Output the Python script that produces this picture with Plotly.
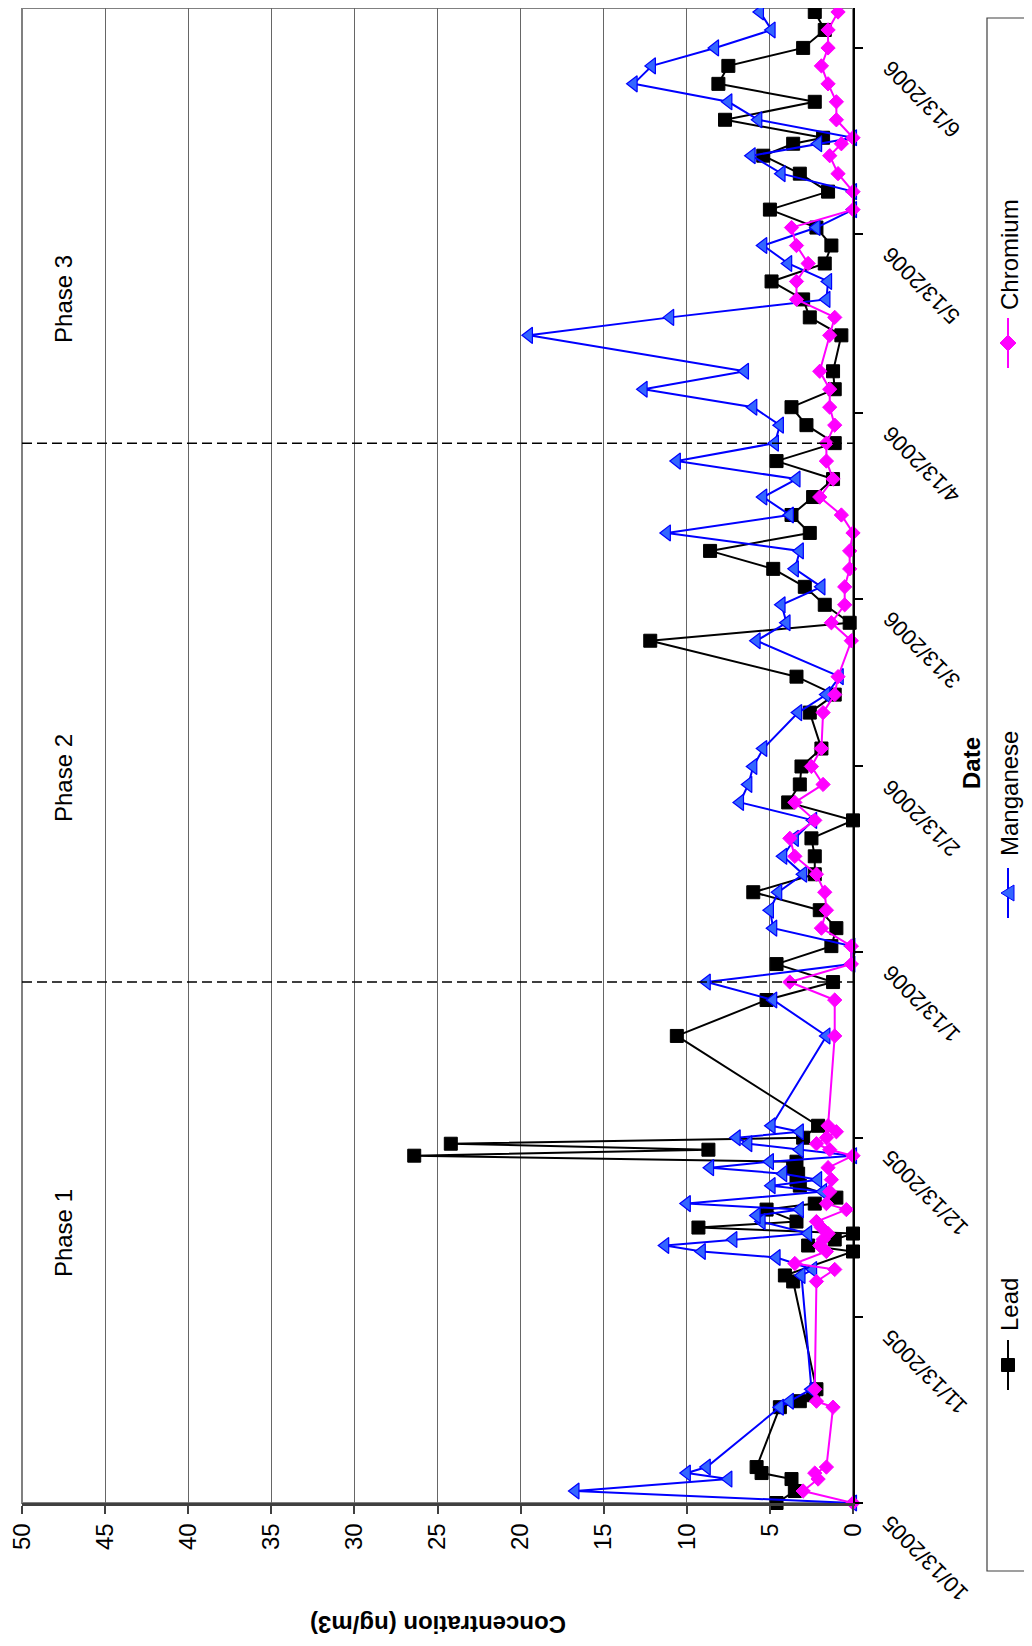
import plotly.graph_objects as go

FONT = "Liberation Sans, Arial, sans-serif"

# ---------------- data ----------------
lead_dates = [
    "2005-10-13", "2005-10-15", "2005-10-17", "2005-10-18", "2005-10-19", "2005-10-29", "2005-10-30",
    "2005-10-31", "2005-11-01", "2005-11-19", "2005-11-20", "2005-11-24", "2005-11-25", "2005-11-26",
    "2005-11-27", "2005-11-28", "2005-11-29", "2005-12-01", "2005-12-02", "2005-12-03", "2005-12-05",
    "2005-12-06", "2005-12-07", "2005-12-08", "2005-12-09", "2005-12-10", "2005-12-11", "2005-12-12",
    "2005-12-13", "2005-12-15", "2005-12-30", "2006-01-05", "2006-01-08", "2006-01-11", "2006-01-14",
    "2006-01-17", "2006-01-20", "2006-01-23", "2006-01-26", "2006-01-29", "2006-02-01", "2006-02-04",
    "2006-02-07", "2006-02-10", "2006-02-13", "2006-02-16", "2006-02-22", "2006-02-25", "2006-02-28",
    "2006-03-06", "2006-03-09", "2006-03-12", "2006-03-15", "2006-03-18", "2006-03-21", "2006-03-24",
    "2006-03-27", "2006-03-30", "2006-04-02", "2006-04-05", "2006-04-08", "2006-04-11", "2006-04-14",
    "2006-04-17", "2006-04-20", "2006-04-26", "2006-04-29", "2006-05-02", "2006-05-05", "2006-05-08",
    "2006-05-11", "2006-05-14", "2006-05-17", "2006-05-20", "2006-05-23", "2006-05-26", "2006-05-28",
    "2006-05-29", "2006-06-01", "2006-06-04", "2006-06-07", "2006-06-10", "2006-06-13", "2006-06-16",
    "2006-06-19",
]
lead_vals = [
    4.6, 3.5, 3.7, 5.5, 5.8, 4.4, 3.2,
    2.4, 2.2, 3.6, 4.1, 0.0, 2.7, 1.1,
    0.0, 9.3, 3.4, 5.2, 2.3, 1.0, 3.2,
    3.4, 3.3, 3.6, 3.4, 26.4, 8.7, 24.2,
    3.0, 2.1, 10.6, 5.2, 1.2, 4.6, 1.3,
    1.0, 2.0, 6.0, 2.3, 2.3, 2.5, 0.0,
    3.9, 3.2, 3.1, 1.9, 2.6, 1.1, 3.4,
    12.2, 0.2, 1.7, 2.9, 4.8, 8.6, 2.6,
    3.7, 2.4, 1.2, 4.6, 1.1, 2.8, 3.7,
    1.1, 1.2, 0.7, 2.6, 3.0, 4.9, 1.7,
    1.3, 2.2, 5.0, 1.5, 3.2, 5.4, 3.6,
    1.8, 7.7, 2.3, 8.1, 7.5, 3.0, 1.7,
    2.3,
]

mn_dates = [
    "2005-10-13", "2005-10-15", "2005-10-17", "2005-10-18", "2005-10-19", "2005-10-29", "2005-10-30",
    "2005-11-01", "2005-11-20", "2005-11-21", "2005-11-23", "2005-11-24", "2005-11-25", "2005-11-26",
    "2005-11-27", "2005-11-29", "2005-11-30", "2005-12-01", "2005-12-02", "2005-12-04", "2005-12-05",
    "2005-12-06", "2005-12-07", "2005-12-08", "2005-12-09", "2005-12-10", "2005-12-11", "2005-12-12",
    "2005-12-13", "2005-12-14", "2005-12-15", "2005-12-30", "2006-01-05", "2006-01-08", "2006-01-11",
    "2006-01-14", "2006-01-17", "2006-01-20", "2006-01-23", "2006-01-26", "2006-01-29", "2006-02-01",
    "2006-02-04", "2006-02-07", "2006-02-10", "2006-02-13", "2006-02-16", "2006-02-22", "2006-02-25",
    "2006-02-28", "2006-03-06", "2006-03-09", "2006-03-12", "2006-03-15", "2006-03-18", "2006-03-21",
    "2006-03-24", "2006-03-27", "2006-03-30", "2006-04-02", "2006-04-05", "2006-04-08", "2006-04-11",
    "2006-04-14", "2006-04-17", "2006-04-20", "2006-04-26", "2006-04-29", "2006-05-02", "2006-05-05",
    "2006-05-08", "2006-05-11", "2006-05-14", "2006-05-17", "2006-05-20", "2006-05-23", "2006-05-26",
    "2006-05-28", "2006-05-29", "2006-06-01", "2006-06-04", "2006-06-07", "2006-06-10", "2006-06-13",
    "2006-06-16", "2006-06-19",
]
mn_vals = [
    0.0, 16.7, 7.5, 10.0, 8.8, 4.4, 3.8,
    2.5, 3.1, 2.4, 4.6, 9.1, 11.3, 7.2,
    2.7, 5.5, 5.8, 3.2, 10.0, 1.8, 4.9,
    2.1, 4.2, 8.6, 5.0, 0.0, 3.2, 6.3,
    7.0, 3.2, 4.9, 1.6, 4.8, 8.8, 0.1,
    0.1, 4.8, 5.0, 4.5, 3.0, 4.2, 3.5,
    2.4, 6.8, 6.3, 6.0, 5.4, 3.3, 1.6,
    0.8, 5.8, 4.0, 4.3, 1.9, 3.5, 3.2,
    11.2, 3.8, 5.4, 3.4, 10.6, 4.7, 4.4,
    6.0, 12.6, 6.5, 19.5, 11.0, 1.6, 1.5,
    3.9, 5.4, 2.2, 0.0, 0.0, 4.3, 6.1,
    2.1, 0.0, 5.7, 7.5, 13.2, 12.1, 8.3,
    4.9, 5.6,
]

cr_dates = [
    "2005-10-13", "2005-10-15", "2005-10-17", "2005-10-18", "2005-10-19", "2005-10-29", "2005-10-30",
    "2005-11-01", "2005-11-19", "2005-11-21", "2005-11-22", "2005-11-24", "2005-11-25", "2005-11-26",
    "2005-11-27", "2005-11-28", "2005-11-29", "2005-12-01", "2005-12-02", "2005-12-04", "2005-12-06",
    "2005-12-08", "2005-12-10", "2005-12-11", "2005-12-12", "2005-12-13", "2005-12-14", "2005-12-15",
    "2005-12-30", "2006-01-05", "2006-01-08", "2006-01-11", "2006-01-14", "2006-01-17", "2006-01-20",
    "2006-01-23", "2006-01-26", "2006-01-29", "2006-02-01", "2006-02-04", "2006-02-07", "2006-02-10",
    "2006-02-13", "2006-02-16", "2006-02-22", "2006-02-25", "2006-02-28", "2006-03-06", "2006-03-09",
    "2006-03-12", "2006-03-15", "2006-03-18", "2006-03-21", "2006-03-24", "2006-03-27", "2006-03-30",
    "2006-04-02", "2006-04-05", "2006-04-08", "2006-04-11", "2006-04-14", "2006-04-17", "2006-04-20",
    "2006-04-26", "2006-04-29", "2006-05-02", "2006-05-05", "2006-05-08", "2006-05-11", "2006-05-14",
    "2006-05-17", "2006-05-20", "2006-05-23", "2006-05-26", "2006-05-28", "2006-05-29", "2006-06-01",
    "2006-06-04", "2006-06-07", "2006-06-10", "2006-06-13", "2006-06-16", "2006-06-19",
]
cr_vals = [
    0.0, 3.0, 2.1, 2.3, 1.6, 1.2, 2.2,
    2.3, 2.2, 1.1, 3.5, 1.6, 2.0, 1.8,
    1.5, 1.9, 2.2, 0.4, 1.6, 1.4, 1.3,
    1.5, 0.0, 1.4, 2.2, 1.6, 1.0, 1.5,
    1.1, 1.1, 3.8, 0.1, 0.1, 1.9, 1.6,
    1.7, 2.2, 3.5, 3.8, 2.3, 3.5, 1.8,
    2.5, 1.9, 1.8, 1.1, 0.9, 0.1, 1.3,
    0.5, 0.5, 0.2, 0.2, 0.0, 0.7, 2.0,
    1.2, 1.6, 1.6, 1.1, 1.4, 1.4, 2.0,
    1.4, 1.1, 3.4, 3.4, 2.7, 3.4, 3.7,
    0.0, 0.0, 0.9, 1.4, 0.7, 0.0, 1.0,
    1.0, 1.5, 1.9, 1.5, 1.5, 0.9,
]

series_names = ["Lead", "Manganese", "Chromium"]

date_ticks = ["2005-10-13", "2005-11-13", "2005-12-13", "2006-01-13", "2006-02-13",
              "2006-03-13", "2006-04-13", "2006-05-13", "2006-06-13"]
date_tick_labels = ["10/13/2005", "11/13/2005", "12/13/2005", "1/13/2006", "2/13/2006",
                    "3/13/2006", "4/13/2006", "5/13/2006", "6/13/2006"]
date_range = ["2005-10-13", "2006-06-19 16:00"]
conc_ticks = [0, 5, 10, 15, 20, 25, 30, 35, 40, 45, 50]
conc_range = [50, 0]

phase_bounds = ["2006-01-08", "2006-04-08"]
phase_names = ["Phase 1", "Phase 2", "Phase 3"]
phase_label_dates = ["2005-11-27", "2006-02-11", "2006-05-02"]
phase_label_conc = 47.5

# ---------------- layout geometry (window pixels) ----------------
OFF = 8                      # page body margin
FW, FH = 1024, 1630          # figure size
PL, PR, PT, PB = 22, 853, 8, 1503   # plot area in window pixels


def px_x(px):
    return (px - PL) / (PR - PL)


def px_y(py):
    return (PB - py) / (PB - PT)


BLUE = "#0000FF"
MAG = "#FF00FF"

fig = go.Figure()
fig.add_trace(go.Scatter(
    x=lead_vals, y=lead_dates, mode="lines+markers", name=series_names[0],
    line=dict(color="black", width=2),
    marker=dict(symbol="square", size=13, color="black", line=dict(color="black", width=1)),
    cliponaxis=False,
))
fig.add_trace(go.Scatter(
    x=mn_vals, y=mn_dates, mode="lines+markers", name=series_names[1],
    line=dict(color=BLUE, width=2),
    marker=dict(symbol="triangle-left", size=14, color="#3366FF", line=dict(color=BLUE, width=1.2)),
    cliponaxis=False,
))
fig.add_trace(go.Scatter(
    x=cr_vals, y=cr_dates, mode="lines+markers", name=series_names[2],
    line=dict(color=MAG, width=2),
    marker=dict(symbol="diamond", size=11, color=MAG, line=dict(color=MAG, width=1)),
    cliponaxis=False,
))

shapes = []
# plot area frame
shapes.append(dict(type="rect", xref="paper", yref="paper", x0=0, x1=1, y0=0, y1=1,
                   line=dict(color="#808080", width=2), layer="below"))
# phase boundaries
for d in phase_bounds:
    shapes.append(dict(type="line", xref="paper", yref="y", x0=0, x1=1, y0=d, y1=d,
                       line=dict(color="black", width=1.5, dash="10px,5px")))

# legend box
shapes.append(dict(type="rect", xref="paper", yref="paper",
                   x0=px_x(987), x1=px_x(1030), y0=px_y(1571), y1=px_y(18),
                   line=dict(color="#404040", width=1.2), fillcolor="white", layer="below"))

annotations = []
# date tick labels (rotated, like the reference)
for d, lab in zip(date_ticks, date_tick_labels):
    annotations.append(dict(x=1, xref="paper", xshift=22, xanchor="left",
                            y=d, yref="y", yshift=-5, yanchor="top",
                            text=lab, textangle=-135, showarrow=False,
                            font=dict(family=FONT, size=22, color="black")))

# axis titles
annotations.append(dict(x=px_x(971), y=px_y(763), xref="paper", yref="paper",
                        xanchor="center", yanchor="middle",
                        text="<b>Date</b>", textangle=-90, showarrow=False,
                        font=dict(family=FONT, size=24, color="black")))
annotations.append(dict(x=px_x(438), y=px_y(1625), xref="paper", yref="paper",
                        xanchor="center", yanchor="middle",
                        text="<b>Concentration (ng/m3)</b>", textangle=180, showarrow=False,
                        font=dict(family=FONT, size=24, color="black")))

# phase labels
for name, d in zip(phase_names, phase_label_dates):
    annotations.append(dict(x=phase_label_conc, y=d, xref="x", yref="y", text=name,
                            xanchor="center", yanchor="middle",
                            textangle=-90, showarrow=False,
                            font=dict(family=FONT, size=24, color="black")))

# custom rotated legend
leg_x = px_x(1008)
legend_items = [
    # name, color, marker center y, text center y, kind
    (series_names[0], "black", 1365, 1305, "square"),
    (series_names[1], BLUE, 893, 794, "tri"),
    (series_names[2], MAG, 343, 255, "diamond"),
]
for name, col, my, ty, kind in legend_items:
    shapes.append(dict(type="line", xref="paper", yref="paper", x0=leg_x, x1=leg_x,
                       y0=px_y(my - 25), y1=px_y(my + 25), line=dict(color=col, width=2)))
    if kind == "square":
        path = "M -6.5,-6.5 L 6.5,-6.5 L 6.5,6.5 L -6.5,6.5 Z"
        fill, lc = "black", "black"
    elif kind == "tri":
        path = "M -7,0 L 6,-8 L 6,8 Z"
        fill, lc = "#3366FF", BLUE
    else:
        path = "M 0,-8 L 8,0 L 0,8 L -8,0 Z"
        fill, lc = MAG, MAG
    shapes.append(dict(type="path", xref="paper", yref="paper",
                       xsizemode="pixel", ysizemode="pixel",
                       xanchor=leg_x, yanchor=px_y(my), path=path,
                       fillcolor=fill, line=dict(color=lc, width=1)))
    annotations.append(dict(x=px_x(1009), y=px_y(ty), xref="paper", yref="paper",
                            xanchor="center", yanchor="middle",
                            text=name, textangle=-90, showarrow=False,
                            font=dict(family=FONT, size=24, color="black")))

fig.update_layout(
    width=FW, height=FH,
    margin=dict(l=PL - OFF, r=FW - (PR - OFF), t=PT - OFF, b=FH - (PB - OFF), pad=0),
    paper_bgcolor="white", plot_bgcolor="white",
    showlegend=False,
    font=dict(family=FONT, size=22, color="black"),
    xaxis=dict(range=conc_range, tickvals=conc_ticks, ticks="outside", ticklen=8,
               tickcolor="#404040", tickwidth=1.5, tickangle=-90,
               ticklabeloverflow="allow",
               tickfont=dict(family=FONT, size=24, color="black"),
               showgrid=True, gridcolor="#666666", gridwidth=1,
               showline=True, linecolor="#404040", linewidth=2.5, zeroline=False),
    yaxis=dict(type="date", range=date_range, side="right", tickvals=date_ticks,
               showticklabels=False, ticks="outside", ticklen=8, tickcolor="black",
               tickwidth=1.5, showgrid=False, showline=True, linecolor="black",
               linewidth=1.5, zeroline=False),
    shapes=shapes,
    annotations=annotations,
)

fig.write_html("out.html")
